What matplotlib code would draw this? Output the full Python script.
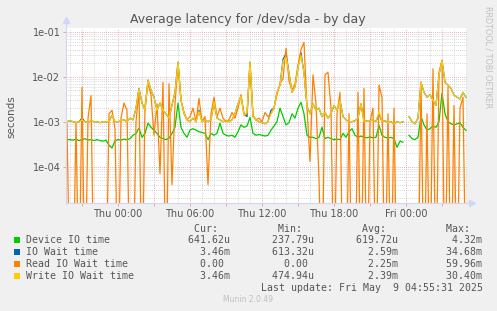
import matplotlib
matplotlib.use("Agg")
import matplotlib.pyplot as plt
import matplotlib.dates as mdates
from matplotlib.patches import Rectangle
from matplotlib.ticker import FuncFormatter, LogLocator, NullFormatter, FixedLocator
import numpy as np
import pandas as pd

# samples every 15 minutes, Wed 19:45 -> Fri 05:00
times = pd.date_range("2025-05-07 19:45", periods=134, freq="15min")
nan = float("nan")

# values in milliseconds
device_ms = [
    0.40, 0.40, 0.39, 0.41, 0.38, 0.40, 0.42, 0.39, 0.40, 0.38,
    0.40, 0.38, 0.37, 0.39, 0.30, 0.26, 0.38, 0.40, 0.39, 0.41,
    0.40, 0.42, 0.50, 0.55, 0.72, 0.45, 0.55, 0.93, 0.75, 0.65,
    0.55, 0.45, 0.42, 0.40, 0.43, 0.55, 0.75, 2.6, 0.75, 0.55,
    0.45, 0.65, 0.70, 0.65, 0.60, 0.58, 0.55, 0.40, 0.55, 0.50,
    0.55, 0.93, 0.55, 0.50, 0.48, 0.50, 0.45, 0.60, 0.85, 0.75,
    0.80, 1.25, 0.55, 0.50, 0.52, 0.50, 0.48, 0.50, 0.65, 0.80,
    1.0, 2.0, 1.3, 0.85, 0.95, 1.5, 1.2, 2.0, 2.7, 1.5,
    0.50, 0.45, 0.45, 0.42, 0.45, 0.75, 0.42, 0.45, 0.42, 0.40,
    0.41, 0.40, 0.55, 0.45, 0.60, 0.70, 0.50, 0.45, 0.48, 0.45,
    0.44, 0.46, 0.44, 0.45, 0.83, 0.50, 0.45, 0.43, 0.45, 0.42,
    0.27, 0.37, 0.35, nan, 0.50, 0.42, 0.40, 0.45, 1.3, 0.85,
    0.65, 0.70, 0.80, 0.75, 1.0, 4.3, 1.5, 1.0, 0.90, 0.85,
    0.90, 0.95, 0.75, 0.64,
]
iowait_ms = [
    1.0, 1.05, 1.0, 0.95, 1.0, 1.2, 1.0, 0.95, 1.05, 1.0,
    1.0, 0.95, 1.0, 1.0, 1.0, 1.4, 1.0, 1.0, 1.05, 1.1,
    1.0, 1.2, 1.1, 2.0, 5.5, 2.6, 1.8, 8.4, 5.0, 3.5,
    1.8, 2.6, 1.8, 1.5, 1.2, 2.3, 4.5, 21, 3.0, 1.6,
    1.1, 1.0, 1.2, 1.0, 1.8, 1.0, 1.1, 1.0, 1.1, 2.7,
    1.2, 1.1, 1.0, 1.05, 1.0, 1.1, 1.5, 2.5, 3.7, 1.5,
    1.3, 21, 1.3, 1.1, 1.0, 0.95, 0.9, 1.0, 1.8, 2.0,
    4.5, 6.5, 24, 33, 12, 4.5, 6.0, 16, 34, 12,
    2.2, 1.5, 2.5, 1.8, 2.0, 1.3, 1.6, 1.2, 1.5, 2.3,
    1.8, 3.0, 1.3, 1.1, 1.0, 1.0, 1.05, 1.2, 2.5, 1.0,
    1.05, 1.05, 1.1, 1.0, 1.5, 1.0, 1.05, 0.95, 1.0, 0.9,
    1.0, 0.95, 1.0, nan, 1.3, 1.0, 0.9, 1.2, 7.5, 4.5,
    3.5, 4.0, 3.0, 2.3, 11, 23, 7.5, 6.5, 5.5, 3.9,
    3.5, 3.2, 4.5, 3.46,
]
read_ms = [
    0.9, 0, 0, 1.0, 0, 5.8, 0, 1.2, 3.8, 0,
    0, 0, 0, 0, 1.5, 1.8, 0.7, 0, 1.2, 2.6,
    1.8, 0, 0, 1.0, 5.0, 0, 2.3, 7.0, 4.0, 0.5,
    2.5, 0.07, 7.5, 0, 7.0, 0.04, 2.5, 20, 3.0, 1.5,
    1.1, 1.3, 2.0, 1.0, 3.3, 1.0, 1.3, 0.04, 1.5, 3.5,
    1.3, 2.0, 1.2, 1.0, 1.1, 1.6, 1.2, 2.0, 4.0, 1.4,
    1.5, 20, 1.4, 1.1, 1.2, 1.0, 1.6, 1.3, 1.5, 2.0,
    4.0, 7.0, 9.0, 43, 8.0, 5.0, 7.0, 18, 40, 58,
    2.0, 0.13, 11, 2.5, 0.055, 0, 11, 12.6, 2.0, 0,
    1.5, 4.5, 0, 0, 1.5, 0, 0, 4.5, 0, 5.5,
    0, 1.0, 2.0, 0, 6.5, 3.5, 0, 1.5, 0, 2.0,
    0, 0, 0, nan, 0, 0, 0, 0, 7.5, 0,
    1.5, 0, 15, 0, 12.6, 23, 0, 6.0, 0, 2.3,
    0, 2.0, 3.5, 0,
]
write_ms = [
    1.0, 1.05, 1.0, 0.95, 1.0, 1.1, 1.0, 0.95, 1.05, 1.0,
    1.0, 0.95, 1.0, 1.0, 1.0, 1.4, 1.0, 1.0, 1.05, 1.1,
    1.0, 1.2, 1.1, 2.0, 5.5, 2.6, 1.8, 8.4, 5.0, 3.5,
    1.8, 2.6, 1.8, 1.5, 1.2, 2.3, 4.5, 21, 3.0, 1.6,
    1.1, 1.0, 1.2, 1.0, 1.7, 1.0, 1.1, 1.0, 1.1, 2.7,
    1.2, 1.1, 1.0, 1.05, 1.0, 1.1, 1.5, 2.5, 3.7, 1.4,
    1.6, 21, 1.3, 1.1, 1.0, 0.95, 0.9, 1.0, 1.5, 2.0,
    4.5, 6.5, 22, 27, 12, 4.5, 6.0, 16, 30, 12,
    2.2, 1.5, 2.5, 1.8, 2.0, 1.3, 1.6, 1.2, 1.5, 2.3,
    1.8, 3.0, 1.3, 1.1, 1.0, 1.0, 1.05, 1.2, 2.5, 1.0,
    1.05, 1.05, 1.1, 1.0, 1.7, 1.0, 1.05, 0.95, 1.0, 0.9,
    1.0, 0.95, 1.0, nan, 1.3, 1.0, 0.9, 1.2, 7.5, 4.5,
    3.5, 4.0, 3.0, 2.3, 11, 23, 7.5, 6.5, 5.5, 3.9,
    3.5, 3.2, 4.5, 3.46,
]

labels = ["Device IO time", "IO Wait time", "Read IO Wait time", "Write IO Wait time"]
colors = ["#00cc00", "#0066b3", "#ff8000", "#ffcc00"]
cur = ["641.62u", "3.46m", "0.00 ", "3.46m"]
mins = ["237.79u", "613.32u", "0.00 ", "474.94u"]
avgs = ["619.72u", "2.59m", "2.25m", "2.39m"]
maxs = ["4.32m", "34.68m", "59.96m", "30.40m"]

W, H = 497, 311
FONT = "#555555"
fig = plt.figure(figsize=(W / 100, H / 100), dpi=100, facecolor="#f0f0f0")
ax = fig.add_axes([66 / W, 1 - 203 / H, 401 / W, 175 / H])
ax.set_facecolor("white")

# series, zero values are pushed under the floor of the log axis
for vals, col in zip([device_ms, iowait_ms, read_ms, write_ms], colors):
    s = np.array(vals, dtype=float) * 1e-3
    s = np.where(s <= 0, 1e-7, s)
    ax.plot(times, s, color=col, lw=0.9)

ax.set_yscale("log")
ax.set_ylim(1.56e-5, 0.121)
ax.set_xlim(pd.Timestamp("2025-05-07 19:40"), pd.Timestamp("2025-05-09 05:05"))

ax.yaxis.set_major_locator(FixedLocator([1e-4, 1e-3, 1e-2, 1e-1]))
ax.yaxis.set_major_formatter(FuncFormatter(lambda v, p: f"{v:.0e}"))
ax.yaxis.set_minor_locator(LogLocator(base=10, subs=range(2, 10)))
ax.yaxis.set_minor_formatter(NullFormatter())

ax.xaxis.set_major_locator(mdates.HourLocator(byhour=range(0, 24, 3)))
ax.xaxis.set_minor_locator(mdates.HourLocator())

def xfmt(v, p):
    d = mdates.num2date(v)
    return d.strftime("%a %H:%M") if d.hour % 6 == 0 else ""

ax.xaxis.set_major_formatter(FuncFormatter(xfmt))

ax.set_axisbelow(True)
ax.grid(which="minor", color="#c8c8c8", linestyle=(0, (1, 1.5)), lw=0.6)
ax.grid(which="major", color="#e49898", linestyle=(0, (1, 1.5)), lw=0.6)

ax.tick_params(which="major", length=2, width=0.6, color="#e49898",
               labelsize=7, labelcolor=FONT, pad=2)
ax.tick_params(which="minor", length=0)

for side in ["top", "right"]:
    ax.spines[side].set_visible(False)
for side in ["left", "bottom"]:
    ax.spines[side].set_color("#cfd6f8")
    ax.spines[side].set_linewidth(0.8)

# axis arrows
ax.plot([0, 0], [1, 1 + 8 / 175], transform=ax.transAxes, color="#cfd6f8",
        lw=0.8, clip_on=False)
ax.plot([0], [1 + 8 / 175], transform=ax.transAxes, marker="^", ms=4,
        color="#cfd6f8", clip_on=False)
ax.plot([1, 1 + 5 / 401], [0, 0], transform=ax.transAxes, color="#cfd6f8",
        lw=0.8, clip_on=False)
ax.plot([1 + 5 / 401], [0], transform=ax.transAxes, marker=">", ms=4,
        color="#cfd6f8", clip_on=False)

fig.text(248 / W, 1 - 19 / H, "Average latency for /dev/sda - by day",
         ha="center", va="center", fontsize=9, color=FONT)
fig.text(11 / W, 1 - 117 / H, "seconds", rotation=90, ha="center", va="center",
         fontsize=7.5, color=FONT)
fig.text(488 / W, 1 - 57 / H, "RRDTOOL / TOBI OETIKER", rotation=270,
         ha="center", va="center", fontsize=5.8, color="#c0c0c0")

# legend block
mono = dict(family="DejaVu Sans Mono", fontsize=7.15, color=FONT, va="center")
header = f"{'':20}{'Cur:':>12}{'Min:':>14}{'Avg:':>14}{'Max:':>14}"
fig.text(26 / W, 1 - 228.5 / H, header, ha="left", **mono)
for k in range(4):
    y = 240 + 12 * k
    row = f"{labels[k]:<20}{cur[k]:>14}{mins[k]:>14}{avgs[k]:>14}{maxs[k]:>14}"
    fig.text(26 / W, 1 - y / H, row, ha="left", **mono)
    fig.add_artist(Rectangle((14 / W, 1 - (y + 2.8) / H), 5.5 / W, 5.5 / H,
                             transform=fig.transFigure, color=colors[k], lw=0))
fig.text(483 / W, 1 - 288 / H, "Last update: Fri May  9 04:55:31 2025",
         ha="right", **mono)
fig.text(248 / W, 1 - 300 / H, "Munin 2.0.49", ha="center", va="center",
         fontsize=5.5, color="#c0c0c0")

fig.savefig("out.png", dpi=100, facecolor=fig.get_facecolor())
